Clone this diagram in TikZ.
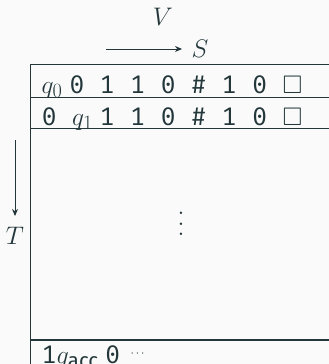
\RequirePackage{fix-cm}
\documentclass[tikz,border=0pt]{standalone}
\usepackage{amsmath,amssymb}
\usepackage[no-math]{fontspec}
\setmainfont{Fira Sans}
\setmonofont{Fira Mono}
\DeclareMathSizes{25.4}{25.4}{20.3}{15.2}
\usetikzlibrary{arrows.meta}
\definecolor{fg}{HTML}{23373B}
\definecolor{bg}{HTML}{FAFAFA}
\begin{document}
\begin{tikzpicture}[x=1pt,y=-1pt,
  every node/.style={text=fg,inner sep=0pt,font=\fontsize{25.4}{30}\selectfont},
  rowtext/.style={anchor=base west},
  rule/.style={draw=fg,line width=1.1pt},
  arr/.style={draw=fg,line width=0.9pt,-{Stealth[length=7pt,width=6pt]}}]
\fill[bg] (0,0) rectangle (329,364);
\useasboundingbox (0,0) rectangle (329,364);
\clip (0,0) rectangle (329,364);
% grid
\draw[rule] (340,64.5) -- (30.5,64.5) -- (30.5,370);
\draw[rule] (30.5,97.5) -- (340,97.5);
\draw[rule] (30.5,128.5) -- (340,128.5);
\draw[rule] (30.5,340) -- (340,340);
% labels
\node (V) at (163,17) {$V$};
\node (S) at (200,49) {$S$};
\node (T) at (15,236) {$T$};
\coordinate (hs) at (106,49);
\coordinate (he) at (182,49);
\coordinate (vs) at (15,140);
\coordinate (ve) at (15,216);
\draw[arr] (hs) -- (he);
\draw[arr] (vs) -- (ve);
% rows
\node[rowtext] (r1) at (41.5,93.5) {$q_0$ \texttt{0 1 1 0 \# 1 0 }$\square$};
\node[rowtext] (r2) at (41.5,125) {\texttt{0 }$q_1$ \texttt{1 1 0 \# 1 0 }$\square$};
\node[rowtext] (r3) at (41.5,363.5) {\texttt{1}$q_{\text{acc}}$ \texttt{0}};
\node[font=\fontsize{12}{14}\selectfont] (dots) at (138.5,354) {$\cdots$};
\node (vd) at (181,224) {\vbox{\baselineskip=10.5pt\lineskiplimit=-20pt\hbox{$.$}\hbox{$.$}\hbox{$.$}}};
\end{tikzpicture}
\end{document}
